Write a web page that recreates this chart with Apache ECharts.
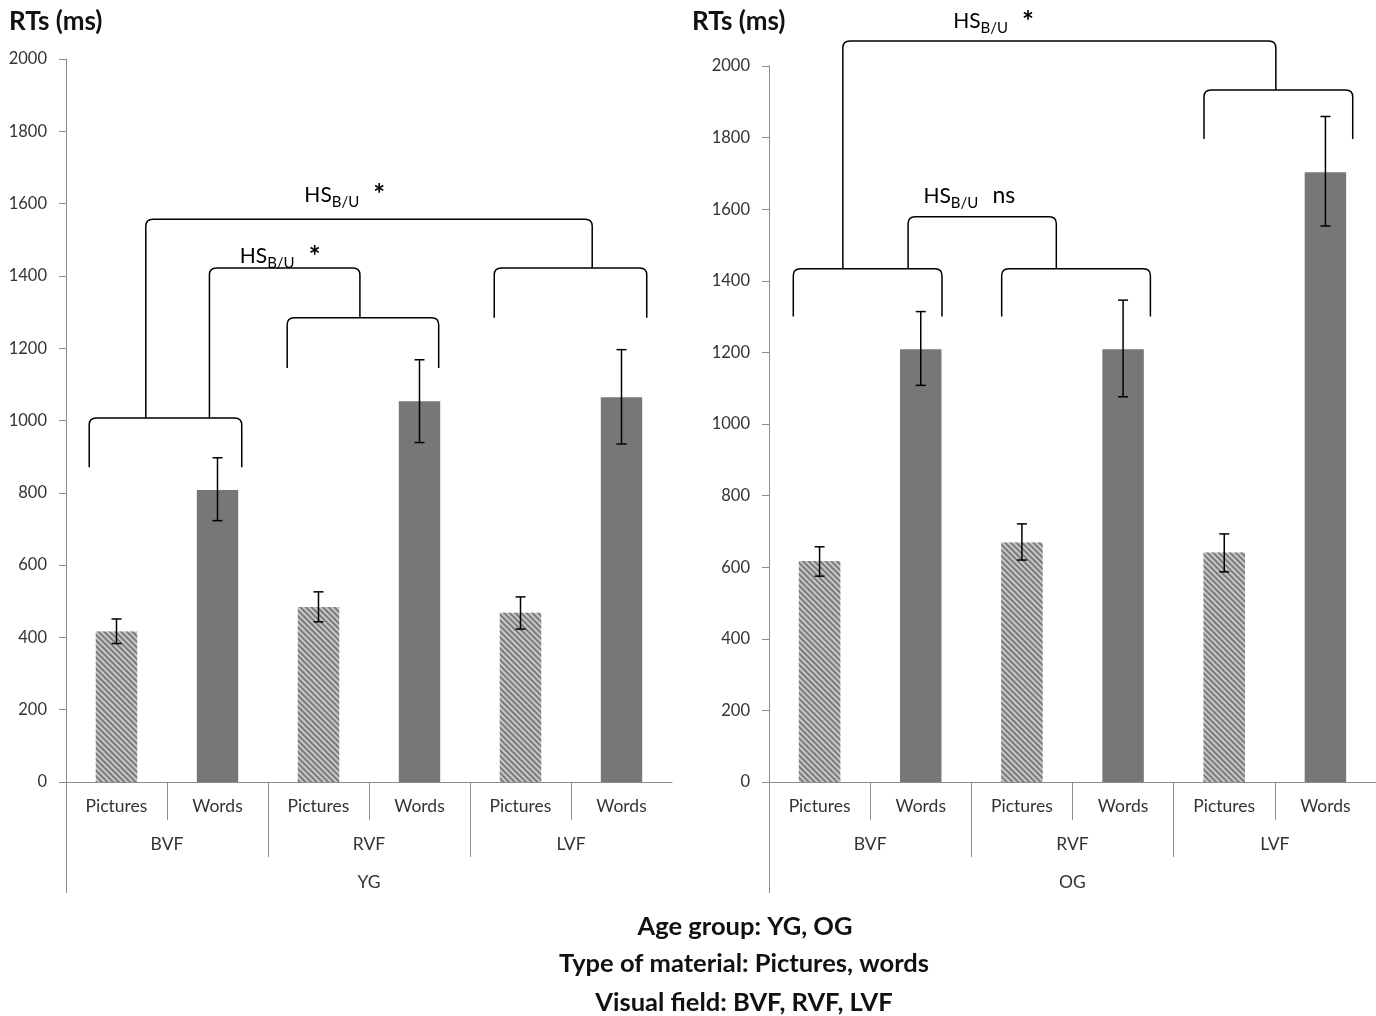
<!DOCTYPE html>
<html>
<head>
<meta charset="utf-8">
<script src="https://cdn.jsdelivr.net/npm/echarts@6/dist/echarts.min.js"></script>
<style>
html,body{margin:0;padding:0;background:#fff;}
#chart{width:1376px;height:1016px;}
</style>
</head>
<body>
<div id="chart"></div>
<script>
// ---------- data ----------
const materials = ['Pictures', 'Words'];
const fields = ['BVF', 'RVF', 'LVF'];
const groups = ['YG', 'OG'];
const yMin = 0, yMax = 2000, yStep = 200;

const ygMeans   = [416, 808, 484, 1053, 468, 1064];
const ygErrLow  = [383, 723, 443, 939, 423, 935];
const ygErrHigh = [451, 897, 526, 1168, 512, 1196];

const ogMeans   = [617, 1209, 669, 1209, 641, 1703];
const ogErrLow  = [575, 1108, 620, 1076, 587, 1553];
const ogErrHigh = [657, 1314, 721, 1346, 693, 1859];

// brackets: [xLeft, xRight, yTop, yLeftEnd, yRightEnd] (category index units, ms)
const ygBrackets = [
  [-0.27, 1.24, 1007, 871, 871],
  [1.69, 3.19, 1284, 1145, 1145],
  [3.74, 5.25, 1422, 1284, 1284],
  [0.92, 2.41, 1422, 1007, 1284],
  [0.29, 4.71, 1557, 1007, 1422]
];
const ogBrackets = [
  [-0.26, 1.21, 1434, 1300, 1300],
  [1.80, 3.27, 1434, 1300, 1300],
  [3.80, 5.27, 1933, 1796, 1796],
  [0.875, 2.34, 1579, 1434, 1434],
  [0.23, 4.51, 2070, 1434, 1933]
];
// significance notes (HS B/U)
const ygNoteX = [2.26, 1.62];
const ygNoteY = [1620, 1450];
const ygNoteSig = ['*', '*'];
const ogNoteX = [1.72, 1.48];
const ogNoteY = [2120, 1629];
const ogNoteSig = ['*', 'ns'];

const yAxisTitle = 'RTs (ms)';
const footLines = ['Age group: YG, OG', 'Type of material: Pictures, words', 'Visual field: BVF, RVF, LVF'];

// ---------- styling ----------
const FONT = 'Lato';
const AXIS_COLOR = '#8c8c8c';
const LABEL_COLOR = '#333';
const cats = [];
fields.forEach(() => materials.forEach(m => cats.push(m)));

const pictureStyle = {
  color: '#c8c8c8',
  decal: { symbol: 'rect', symbolSize: 1, dashArrayX: [1, 0], dashArrayY: [2, 2], rotation: Math.PI / 4, color: '#7a7a7a' }
};
const wordStyle = { color: '#777777' };

function barData(vals) {
  return vals.map((v, i) => ({ value: v, itemStyle: (i % 2 === 0) ? pictureStyle : wordStyle }));
}

function errItem(params, api) {
  const x = api.value(0);
  const lo = api.coord([x, api.value(1)]);
  const hi = api.coord([x, api.value(2)]);
  const w = 5;
  const st = { stroke: '#000', lineWidth: 1.5 };
  return { type: 'group', children: [
    { type: 'line', shape: { x1: lo[0], y1: lo[1], x2: hi[0], y2: hi[1] }, style: st },
    { type: 'line', shape: { x1: lo[0] - w, y1: lo[1], x2: lo[0] + w, y2: lo[1] }, style: st },
    { type: 'line', shape: { x1: hi[0] - w, y1: hi[1], x2: hi[0] + w, y2: hi[1] }, style: st }
  ]};
}

function bracketItem(params, api) {
  const pL = api.coord([api.value(0), api.value(2)]);
  const pR = api.coord([api.value(1), api.value(2)]);
  const bL = api.coord([api.value(0), api.value(3)])[1];
  const bR = api.coord([api.value(1), api.value(4)])[1];
  const r = 7;
  const d = 'M' + pL[0] + ',' + bL +
    ' L' + pL[0] + ',' + (pL[1] + r) +
    ' Q' + pL[0] + ',' + pL[1] + ' ' + (pL[0] + r) + ',' + pL[1] +
    ' L' + (pR[0] - r) + ',' + pR[1] +
    ' Q' + pR[0] + ',' + pR[1] + ' ' + pR[0] + ',' + (pR[1] + r) +
    ' L' + pR[0] + ',' + bR;
  return { type: 'path', shape: { pathData: d }, style: { fill: 'none', stroke: '#000', lineWidth: 1.5 } };
}

function noteItemFactory(sigs) {
  return function (params, api) {
    const p = api.coord([api.value(0), api.value(1)]);
    const sig = sigs[params.dataIndex];
    return {
      type: 'text', x: p[0], y: p[1],
      style: {
        text: '{hs|HS}{sub|B/U}{gap|}{' + (sig === '*' ? 'star' : 'ns') + '|' + sig + '}',
        align: 'center', verticalAlign: 'middle',
        rich: {
          hs: { fontFamily: FONT, fontSize: 21, color: '#222', lineHeight: 22, padding: [0, 0, 4, 0], verticalAlign: 'bottom' },
          sub: { fontFamily: FONT, fontSize: 15, color: '#222', lineHeight: 15, padding: [10, 0, 0, 0], verticalAlign: 'bottom' },
          gap: { width: 14 },
          star: { fontFamily: FONT, fontSize: 28, fontWeight: 'bold', color: '#222', lineHeight: 26, verticalAlign: 'bottom' },
          ns: { fontFamily: FONT, fontSize: 23, color: '#222', lineHeight: 24, padding: [0, 0, 4, 0], verticalAlign: 'bottom' }
        }
      }
    };
  };
}

function panelAxes(gridIndex, groupName) {
  const tickLine = { color: AXIS_COLOR, width: 1 };
  const lab = { fontSize: 17.5, color: LABEL_COLOR, fontFamily: FONT };
  return [
    { type: 'category', gridIndex, data: cats, position: 'bottom',
      axisLine: { show: true, onZero: false, lineStyle: tickLine }, axisTick: { show: false },
      axisLabel: Object.assign({ margin: 15 }, lab) },
    { type: 'value', gridIndex, min: -0.5, max: 5.5, position: 'bottom',
      axisLine: { show: false, onZero: false }, splitLine: { show: false }, axisLabel: { show: false },
      axisTick: { show: true, length: 38, customValues: [0.5, 2.5, 4.5], lineStyle: tickLine } },
    { type: 'value', gridIndex, min: -0.5, max: 5.5, position: 'bottom',
      axisLine: { show: false, onZero: false }, splitLine: { show: false },
      axisTick: { show: true, length: 75, customValues: [1.5, 3.5], lineStyle: tickLine },
      axisLabel: Object.assign({ show: true, margin: 53,
        customValues: [0.5, 2.5, 4.5], formatter: v => fields[Math.round((v - 0.5) / 2)] }, lab) },
    { type: 'value', gridIndex, min: -0.5, max: 5.5, position: 'bottom',
      axisLine: { show: false, onZero: false }, splitLine: { show: false },
      axisTick: { show: true, length: 111, customValues: [-0.5], lineStyle: tickLine },
      axisLabel: Object.assign({ show: true, margin: 91,
        customValues: [2.5], formatter: () => groupName }, lab) }
  ];
}

function yAxisDef(gridIndex) {
  return { type: 'value', gridIndex, min: yMin, max: yMax, interval: yStep,
    axisLine: { show: true, onZero: false, lineStyle: { color: AXIS_COLOR, width: 1 } },
    axisTick: { show: true, length: 7, lineStyle: { color: AXIS_COLOR } },
    splitLine: { show: false },
    axisLabel: { fontSize: 16.5, color: LABEL_COLOR, margin: 19, fontFamily: FONT, formatter: v => String(v) } };
}

function panelSeries(xBase, yIdx, means, lo, hi, brackets, noteX, noteY, noteSig) {
  return [
    { type: 'bar', xAxisIndex: xBase, yAxisIndex: yIdx, data: barData(means), barWidth: '41%', silent: true, z: 2 },
    { type: 'custom', xAxisIndex: xBase + 1, yAxisIndex: yIdx, clip: false, silent: true, z: 5,
      renderItem: errItem, encode: { x: 0, y: [1, 2] },
      data: means.map((m, i) => [i, lo[i], hi[i]]) },
    { type: 'custom', xAxisIndex: xBase + 1, yAxisIndex: yIdx, clip: false, silent: true, z: 5,
      renderItem: bracketItem, encode: { x: [0, 1], y: [2, 3, 4] }, data: brackets },
    { type: 'custom', xAxisIndex: xBase + 1, yAxisIndex: yIdx, clip: false, silent: true, z: 5,
      renderItem: noteItemFactory(noteSig), encode: { x: 0, y: 1 },
      data: noteX.map((x, i) => [x, noteY[i]]) }
  ];
}

const chart = echarts.init(document.getElementById('chart'), null, { renderer: 'canvas' });
const titleStyle = { fontFamily: FONT, fontSize: 26, fontWeight: 'bold', fill: '#111', verticalAlign: 'middle' };
const footStyle = { fontFamily: FONT, fontSize: 25.5, fontWeight: 'bold', fill: '#111', align: 'center', verticalAlign: 'middle' };
chart.setOption({
  backgroundColor: '#fff',
  animation: false,
  textStyle: { fontFamily: FONT },
  grid: [
    { left: 66, top: 59, width: 606, height: 723 },
    { left: 769, top: 66, width: 623, height: 716 }
  ],
  xAxis: panelAxes(0, groups[0]).concat(panelAxes(1, groups[1])),
  yAxis: [yAxisDef(0), yAxisDef(1)],
  series: panelSeries(0, 0, ygMeans, ygErrLow, ygErrHigh, ygBrackets, ygNoteX, ygNoteY, ygNoteSig)
    .concat(panelSeries(4, 1, ogMeans, ogErrLow, ogErrHigh, ogBrackets, ogNoteX, ogNoteY, ogNoteSig)),
  graphic: [
    { type: 'text', x: 9, y: 22, style: Object.assign({ text: yAxisTitle }, titleStyle) },
    { type: 'text', x: 692, y: 22, style: Object.assign({ text: yAxisTitle }, titleStyle) },
    { type: 'text', x: 745, y: 927, style: Object.assign({ text: footLines[0] }, footStyle) },
    { type: 'text', x: 744, y: 964, style: Object.assign({ text: footLines[1] }, footStyle) },
    { type: 'text', x: 744, y: 1003, style: Object.assign({ text: footLines[2] }, footStyle) }
  ]
});
</script>
</body>
</html>
